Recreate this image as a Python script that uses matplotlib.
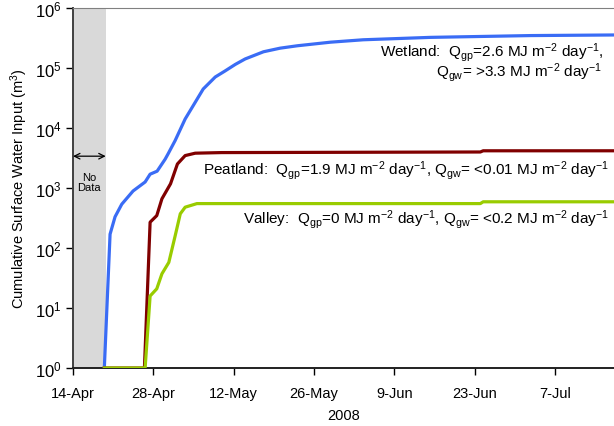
import numpy as np
import matplotlib
matplotlib.use('Agg')
import matplotlib.pyplot as plt
import matplotlib.dates as mdates

plt.rcParams['font.family'] = ['Liberation Sans', 'DejaVu Sans']
plt.rcParams['mathtext.fontset'] = 'custom'
plt.rcParams['mathtext.rm'] = 'Liberation Sans'
plt.rcParams['mathtext.it'] = 'Liberation Sans:italic'
plt.rcParams['mathtext.bf'] = 'Liberation Sans:bold'

# days after 14-Apr-2008, log10 of cumulative input (m3)
wet_days = [5.46, 6.46, 7.33, 8.5, 10.47, 12.57, 13.44, 14.66, 16.06, 16.58, 17.8, 19.55,
            22.7, 24.8, 26.5, 28.3, 30.0, 33.2, 36.1, 39.1, 44.9, 50.6, 62.3, 79.8, 94.3]
wet_log = [0, 2.23, 2.52, 2.73, 2.95, 3.1, 3.23, 3.28, 3.48, 3.57, 3.79, 4.15,
           4.65, 4.85, 4.95, 5.06, 5.15, 5.27, 5.33, 5.37, 5.43, 5.47, 5.51, 5.54, 5.55]

peat_days = [5.46, 12.45, 13.44, 14.6, 15.5, 17.0, 18.2, 19.55, 21.3, 25.9, 71.0, 71.5, 94.3]
peat_log = [0, 0, 2.43, 2.54, 2.82, 3.07, 3.4, 3.54, 3.58, 3.59, 3.6, 3.62, 3.62]

val_days = [5.46, 12.57, 13.44, 14.6, 15.5, 16.7, 17.8, 18.7, 19.55, 21.6, 71.0, 71.5, 94.3]
val_log = [0, 0, 1.2, 1.32, 1.57, 1.76, 2.2, 2.57, 2.68, 2.74, 2.74, 2.77, 2.77]

tick_labels = ['14-Apr', '28-Apr', '12-May', '26-May', '9-Jun', '23-Jun', '7-Jul']
no_data_end = 5.7

base = mdates.date2num(np.datetime64('2008-04-14'))

def to_x(d):
    return base + np.asarray(d, dtype=float)

fig = plt.figure(figsize=(6.14, 4.27), dpi=100)
ax = fig.add_axes([0.1189, 0.1358, 0.8811, 0.8432])

ax.axvspan(to_x(0), to_x(no_data_end), color='#d9d9d9', lw=0, zorder=0)

ax.plot(to_x(wet_days), 10 ** np.array(wet_log), color='#3a6cf5', lw=2.3, zorder=3)
ax.plot(to_x(peat_days), 10 ** np.array(peat_log), color='#800000', lw=2.3, zorder=3)
ax.plot(to_x(val_days), 10 ** np.array(val_log), color='#99cc00', lw=2.3, zorder=4)

ax.set_yscale('log')
ax.set_ylim(1, 1e6)
ax.set_xlim(to_x(0), to_x(94.3))
ax.set_yticks([10 ** k for k in range(7)])
ax.set_yticklabels([r'$10^{%d}$' % k for k in range(7)], fontsize=12)
ax.yaxis.set_minor_locator(matplotlib.ticker.NullLocator())
ax.set_xticks(to_x(np.arange(len(tick_labels)) * 14))
ax.set_xticklabels(tick_labels, fontsize=10.5)

ax.tick_params(axis='x', direction='out', length=5, width=1, colors='#000000', pad=8)
ax.tick_params(axis='y', direction='out', length=5, width=1, colors='#000000', pad=3)
ax.spines['right'].set_visible(False)
ax.spines['top'].set_color('#808080')
ax.spines['left'].set_color('#404040')
ax.spines['left'].set_linewidth(1.4)
ax.spines['bottom'].set_color('#202020')
ax.spines['bottom'].set_linewidth(1.4)

ax.set_ylabel('Cumulative Surface Water Input (m$^{3}$)', fontsize=10.5, labelpad=4)
ax.set_xlabel('2008', fontsize=10.5, labelpad=6)

fs = 11
ax.text(to_x(92.4), 10 ** 5.28,
        r'Wetland:  Q$_{\mathrm{gp}}$=2.6 MJ m$^{-2}$ day$^{-1}$,',
        ha='right', va='center', fontsize=fs)
ax.text(to_x(92.2), 10 ** 4.94,
        r'Q$_{\mathrm{gw}}$= >3.3 MJ m$^{-2}$ day$^{-1}$',
        ha='right', va='center', fontsize=fs)
ax.text(to_x(93.5), 10 ** 3.31,
        r'Peatland:  Q$_{\mathrm{gp}}$=1.9 MJ m$^{-2}$ day$^{-1}$, Q$_{\mathrm{gw}}$= <0.01 MJ m$^{-2}$ day$^{-1}$',
        ha='right', va='center', fontsize=fs)
ax.text(to_x(93.5), 10 ** 2.49,
        r'Valley:  Q$_{\mathrm{gp}}$=0 MJ m$^{-2}$ day$^{-1}$, Q$_{\mathrm{gw}}$= <0.2 MJ m$^{-2}$ day$^{-1}$',
        ha='right', va='center', fontsize=fs)

ax.annotate('', xy=(to_x(0), 10 ** 3.53), xytext=(to_x(no_data_end), 10 ** 3.53),
            arrowprops=dict(arrowstyle='<->', color='black', lw=0.9, shrinkA=0, shrinkB=0))
ax.text(to_x(no_data_end / 2), 10 ** 3.1, 'No\nData', ha='center', va='center',
        fontsize=8, linespacing=1.1)

fig.savefig('out.png', dpi=100)
plt.close()
